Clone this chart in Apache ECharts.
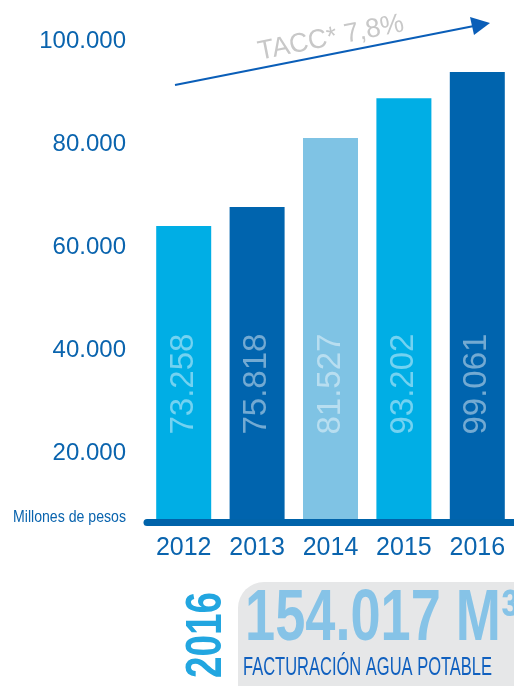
<!DOCTYPE html>
<html>
<head>
<meta charset="utf-8">
<script src="https://cdn.jsdelivr.net/npm/echarts@6/dist/echarts.min.js"></script>
<style>
html,body{margin:0;padding:0;background:#fff;}
#c{width:514px;height:686px;}
</style>
</head>
<body>
<div id="c"></div>
<script>
// ---- data ----
const years = ['2012', '2013', '2014', '2015', '2016'];
const barHeights = [64100, 67800, 81200, 88900, 94000];   // bar tops as drawn on the axis
const barLabels = ['73.258', '75.818', '81.527', '93.202', '99.061'];
const yTicks = [20000, 40000, 60000, 80000, 100000];
const unitLabel = 'Millones de pesos';
const growthLabel = 'TACC* 7,8%';
const footYear = '2016';
const footValue = '154.017 M³';
const footCaption = 'FACTURACIÓN AGUA POTABLE';

// ---- styles ----
const barColors = ['#00AEE5', '#0064AE', '#7FC3E4', '#00AEE5', '#0064AE'];
const axisBlue = '#0A64AE';
const FONT = '"Liberation Sans", Arial, sans-serif';

const fmt = v => String(v).replace(/\B(?=(\d{3})+(?!\d))/g, '.');
const mctx = document.createElement('canvas').getContext('2d');
function fit(text, font, target) { mctx.font = font; return target / mctx.measureText(text).width; }

const fUnit = '17px ' + FONT;
const fYear = 'bold 50px ' + FONT;
const fValue = 'bold 72px ' + FONT;
const fCap = '25px ' + FONT;
const fGrowth = '27px ' + FONT;

const chart = echarts.init(document.getElementById('c'), null, {renderer: 'canvas'});
chart.setOption({
  animation: false,
  backgroundColor: '#ffffff',
  grid: {left: 147, right: -5, top: 41, bottom: 163.5},
  xAxis: {
    type: 'category',
    data: years,
    z: 5,
    axisLine: {show: true, lineStyle: {color: '#0063AA', width: 7}},
    axisTick: {show: false},
    axisLabel: {interval: 0, color: axisBlue, fontSize: 25, fontFamily: FONT, margin: 13}
  },
  yAxis: {
    type: 'value',
    min: 6600,
    max: 100000,
    splitLine: {show: false},
    axisLine: {show: false},
    axisTick: {show: false},
    axisLabel: {
      customValues: yTicks,
      formatter: v => fmt(v),
      color: axisBlue, fontSize: 24, fontFamily: FONT, margin: 21
    }
  },
  series: [{
    type: 'bar',
    barWidth: 55,
    data: barHeights.map((v, i) => ({value: v, itemStyle: {color: barColors[i]}})),
    label: {
      show: true,
      position: 'insideBottom',
      rotate: 90,
      align: 'left',
      verticalAlign: 'middle',
      distance: 88,
      formatter: p => barLabels[p.dataIndex],
      color: 'rgba(255,255,255,0.45)',
      fontSize: 33,
      fontFamily: FONT
    }
  }],
  graphic: [
    {
      type: 'text', x: 126, y: 517, scaleX: fit(unitLabel, fUnit, 113), originX: 0,
      style: {text: unitLabel, fill: axisBlue, font: fUnit, align: 'right', verticalAlign: 'middle'}
    },
    {
      type: 'line', shape: {x1: 175, y1: 85, x2: 474, y2: 26},
      style: {stroke: '#0A5EB8', lineWidth: 2.2}
    },
    {
      type: 'polygon', shape: {points: [[490, 23], [470, 17], [474, 35]]},
      style: {fill: '#0A5EB8'}
    },
    {
      type: 'text', x: 331, y: 38, rotation: 11.2 * Math.PI / 180,
      scaleX: fit(growthLabel, fGrowth, 148),
      style: {text: growthLabel, fill: '#C8C8C8', font: fGrowth, align: 'center', verticalAlign: 'middle'}
    },
    {
      type: 'rect', shape: {x: 238, y: 582, width: 320, height: 140, r: 26},
      style: {fill: '#E6E7E8'}
    },
    {
      type: 'text', x: 207, y: 635, rotation: Math.PI / 2, scaleX: fit(footYear, fYear, 86),
      style: {text: footYear, fill: '#22A6E0', font: fYear, align: 'center', verticalAlign: 'middle'}
    },
    {
      type: 'text', x: 245, y: 620, scaleX: fit('154.017 M', fValue, 256),
      style: {text: footValue, fill: '#86C3E7', font: fValue, align: 'left', verticalAlign: 'middle'}
    },
    {
      type: 'text', x: 243, y: 668, scaleX: fit(footCaption, fCap, 249),
      style: {text: footCaption, fill: '#1060BF', font: fCap, align: 'left', verticalAlign: 'middle'}
    }
  ]
});
</script>
</body>
</html>
